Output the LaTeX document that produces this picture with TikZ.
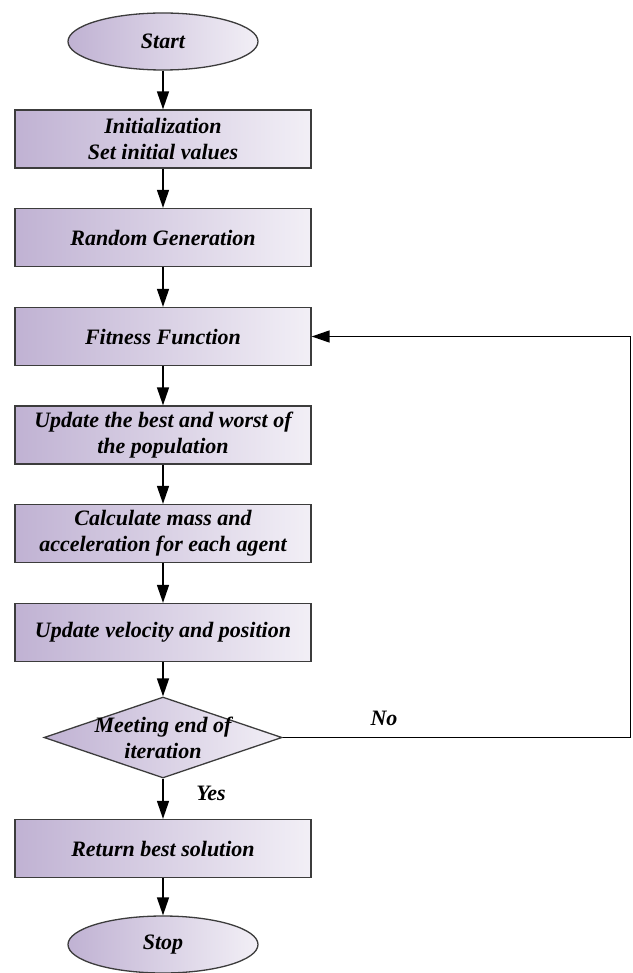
\documentclass[tikz,border=0pt]{standalone}
\usepackage{fontspec}
\setmainfont{Liberation Serif}
\usetikzlibrary{shapes.geometric,arrows.meta}
\definecolor{lavdark}{RGB}{192,178,211}
\definecolor{lavlight}{RGB}{242,239,246}
\definecolor{edgegray}{RGB}{60,60,60}
\tikzset{
  txt/.style={font=\bfseries\itshape\fontsize{22}{26}\selectfont, align=center},
  fillshade/.style={left color=lavdark, right color=lavlight, draw=edgegray, line width=1.3pt},
  proc/.style={fillshade, txt, rectangle, minimum width=296pt, minimum height=58pt, inner sep=0pt},
  term/.style={fillshade, txt, ellipse, minimum width=190pt, minimum height=57pt, inner sep=0pt},
  decide/.style={fillshade, diamond, minimum width=238pt, minimum height=81pt, inner sep=0pt},
  arr/.style={draw=black, line width=1.5pt, -{Triangle[width=12pt,length=18pt]}},
  lbl/.style={txt}
}
\begin{document}
\begin{tikzpicture}[x=1pt,y=-1pt]
\useasboundingbox (0,0) rectangle (632,973);
\node[term] (start) at (163,41.5) {Start};
\node[proc] (init) at (163,139) {Initialization\\Set initial values};
\node[proc] (rand) at (163,237.5) {Random Generation};
\node[proc] (fit) at (163,336.5) {Fitness Function};
\node[proc] (best) at (163,435) {Update the best and worst of\\the population};
\node[proc] (calc) at (163,533.5) {Calculate mass and\\acceleration for each agent};
\node[proc] (vel) at (163,632.5) {Update velocity and position};
\node[decide] (dia) at (163,737.5) {};
\node[txt] (diatext) at (163,737.5) {Meeting end of\\iteration};
\node[proc] (ret) at (163,848.5) {Return best solution};
\node[term] (stop) at (163,944.5) {Stop};
\coordinate (corner) at (630.5,737.5);
\draw[arr] (start) -- (init);
\draw[arr] (init) -- (rand);
\draw[arr] (rand) -- (fit);
\draw[arr] (fit) -- (best);
\draw[arr] (best) -- (calc);
\draw[arr] (calc) -- (vel);
\draw[arr] (vel) -- (dia.north);
\draw[arr] (dia.south) -- (ret);
\draw[arr] (ret) -- (stop);
\draw[arr] (dia.east) -- (corner) |- (fit.east);
\node[lbl] (no) at (384,718) {No};
\node[lbl] (yes) at (211,793) {Yes};
\end{tikzpicture}
\end{document}
